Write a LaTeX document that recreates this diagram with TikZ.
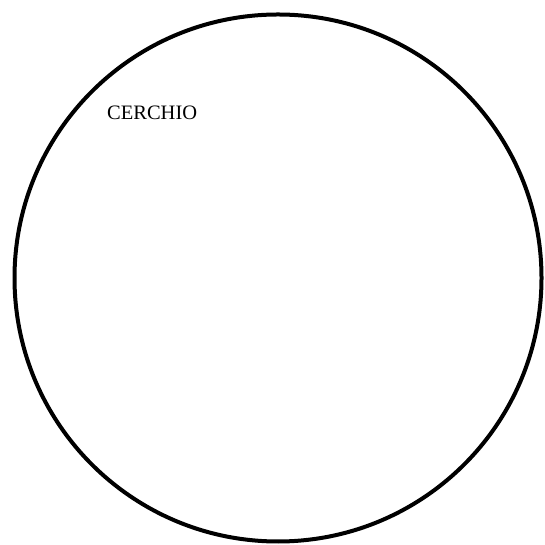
\documentclass[tikz,border=0pt]{standalone}
\usepackage{fontspec}
\setmainfont{Liberation Serif}
\begin{document}
\begin{tikzpicture}[x=1pt,y=1pt,
  ring/.style={draw=black,line width=4pt},
  lbl/.style={inner sep=0pt,anchor=base west,font=\fontsize{20.5}{24}\selectfont}]
\useasboundingbox (0,0) rectangle (544,545);
\node[ring,circle,minimum size=527pt,inner sep=0pt] (c) at (278,267) {};
\node[lbl] (t) at (107,425.5) {CERCHIO};
\end{tikzpicture}
\end{document}
